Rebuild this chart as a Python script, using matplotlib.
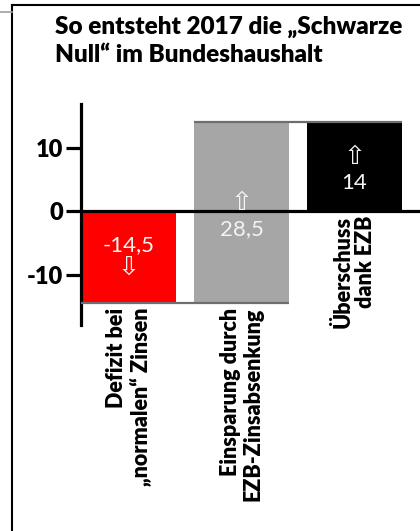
import matplotlib
matplotlib.use("Agg")
import matplotlib.pyplot as plt
import numpy as np

plt.rcParams['font.family'] = ['Lato', 'DejaVu Sans']

# waterfall data (Mrd. Euro)
categories = ["Defizit bei\n„normalen“ Zinsen", "Einsparung durch\nEZB-Zinsabsenkung", "Überschuss\ndank EZB"]
values = [-14.5, 28.5, 14]
is_total = [False, False, True]
bar_colors = ["#ff0000", "#a6a6a6", "#000000"]
value_labels = ["-14,5", "28,5", "14"]
yticks = [-10, 0, 10]

# bottoms for the waterfall
bottoms = []
run = 0
for v, tot in zip(values, is_total):
    if tot:
        bottoms.append(0)
        run = v
    else:
        bottoms.append(run)
        run += v
bottoms = np.array(bottoms)
heights = np.array(values)

fig = plt.figure(figsize=(4.2, 5.31), dpi=100)
ax = fig.add_axes([81/420, 1 - 325/531, 1 - 81/420, (325 - 104)/531])

x = np.arange(len(values))
w = 0.84
ax.bar(x, heights, bottom=bottoms, width=w, color=bar_colors, zorder=2)

# connector lines between the bars
for i in range(len(values) - 1):
    level = bottoms[i] + heights[i]
    ax.plot([x[i] - w/2, x[i+1] + w/2], [level, level], color="#6e6e6e", lw=1.6, zorder=3,
            solid_capstyle='butt')

ax.axhline(0, color="black", lw=2.3, zorder=4)

# value labels with arrows inside the bars
for i, v in enumerate(values):
    lo = min(bottoms[i], bottoms[i] + heights[i])
    hi = max(bottoms[i], bottoms[i] + heights[i])
    mid = (lo + hi) / 2
    if v < 0:
        ax.text(x[i], mid + 2.0, value_labels[i], ha='center', va='center', color='#f4f4f4', fontsize=16, zorder=5)
        ax.text(x[i], mid - 1.7, "⇩", ha='center', va='center', color='#f4f4f4', fontsize=19,
                family=['DejaVu Sans'], zorder=5)
    else:
        ax.text(x[i], mid + 1.6, "⇧", ha='center', va='center', color='#f4f4f4', fontsize=19,
                family=['DejaVu Sans'], zorder=5)
        ax.text(x[i], mid - 2.6, value_labels[i], ha='center', va='center', color='#f4f4f4', fontsize=16, zorder=5)

# category labels below each bar
for i, lab in enumerate(categories):
    low = min(bottoms[i], bottoms[i] + heights[i])
    ax.annotate(lab, (x[i], low), xytext=(0, -3), textcoords='offset points',
                rotation=90, ha='center', va='top', multialignment='right',
                fontsize=15.5, fontweight='heavy', linespacing=1.1, annotation_clip=False)

ax.set_xlim(-0.42, 2.58)
ax.set_ylim(-17.9, 16.9)
ax.set_yticks(yticks)
ax.set_yticklabels([str(t) for t in yticks], fontsize=17, fontweight='heavy')
ax.set_xticks([])
for s in ['top', 'right', 'bottom']:
    ax.spines[s].set_visible(False)
ax.spines['left'].set_linewidth(2.3)
ax.tick_params(axis='y', length=11, width=2.3, pad=2)

fig.text(55/420, 1 - 16/531, "So entsteht 2017 die „Schwarze\nNull“ im Bundeshaushalt",
         ha='left', va='top', fontsize=17.5, fontweight='heavy', linespacing=1.35)

# outer frame of the graphic
fig.add_artist(plt.Line2D([12/420, 12/420], [0, 1 - 5/531], color='black', lw=1.5, transform=fig.transFigure))
fig.add_artist(plt.Line2D([12/420, 1], [1 - 5/531, 1 - 5/531], color='black', lw=1.5, transform=fig.transFigure))
fig.add_artist(plt.Line2D([0, 12/420], [1 - 12/531, 1 - 12/531], color='#a0a0a0', lw=1.2, transform=fig.transFigure))

fig.savefig("out.png", dpi=100)
